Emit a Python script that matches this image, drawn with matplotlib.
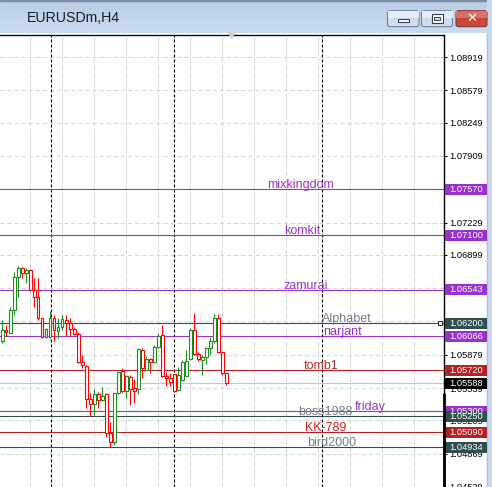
import numpy as np
import matplotlib
matplotlib.use("Agg")
import matplotlib.pyplot as plt
from matplotlib.patches import Rectangle, FancyBboxPatch
from matplotlib.transforms import blended_transform_factory

plt.rcParams['font.family'] = ['Liberation Sans', 'DejaVu Sans']
plt.rcParams['lines.scale_dashes'] = False

# ---------------- data ----------------
window_title = "EURUSDm,H4"

opens = [1.06022, 1.06132, 1.06104, 1.06336, 1.06676, 1.06762, 1.06711, 1.06744, 1.06540, 1.06466,
         1.06251, 1.06057, 1.06057, 1.06251, 1.06125, 1.06159, 1.06234, 1.06200, 1.06139, 1.06088,
         1.05805, 1.05769, 1.05424, 1.05373, 1.05475, 1.05417, 1.05475, 1.05077, 1.04991, 1.05485,
         1.05716, 1.05512, 1.05655, 1.05536, 1.05526, 1.05928, 1.05723, 1.05833, 1.05808, 1.05955,
         1.06081, 1.05662, 1.05638, 1.05682, 1.05519, 1.05621, 1.05662, 1.05833, 1.06132, 1.05887,
         1.05825, 1.05853, 1.05945, 1.06022, 1.06251, 1.05910, 1.05690]
highs = [1.06234, 1.06183, 1.06367, 1.06727, 1.06785, 1.06778, 1.06762, 1.06751, 1.06660, 1.06660,
         1.06254, 1.06149, 1.06326, 1.06285, 1.06257, 1.06285, 1.06285, 1.06251, 1.06159, 1.06114,
         1.05876, 1.05774, 1.05485, 1.05526, 1.05502, 1.05553, 1.05485, 1.05195, 1.05490, 1.05706,
         1.05741, 1.05672, 1.05672, 1.05628, 1.05945, 1.05945, 1.05866, 1.05843, 1.05979, 1.06104,
         1.06183, 1.05706, 1.05690, 1.05682, 1.05757, 1.05825, 1.05928, 1.06149, 1.06302, 1.05910,
         1.05876, 1.05961, 1.06057, 1.06295, 1.06295, 1.05910, 1.05690]
lows = [1.06002, 1.06070, 1.06101, 1.06285, 1.06472, 1.06660, 1.06609, 1.06533, 1.06363, 1.06234,
        1.06050, 1.06050, 1.06047, 1.06022, 1.06047, 1.06132, 1.06070, 1.06070, 1.06081, 1.05798,
        1.05741, 1.05335, 1.05254, 1.05264, 1.05332, 1.05407, 1.05042, 1.04940, 1.04957, 1.05475,
        1.05492, 1.05434, 1.05366, 1.05383, 1.05478, 1.05638, 1.05720, 1.05696, 1.05792, 1.05945,
        1.05649, 1.05560, 1.05560, 1.05502, 1.05512, 1.05614, 1.05662, 1.05825, 1.05876, 1.05818,
        1.05672, 1.05785, 1.05876, 1.06002, 1.05900, 1.05672, 1.05570]
closes = [1.06132, 1.06116, 1.06336, 1.06670, 1.06762, 1.06711, 1.06744, 1.06540, 1.06466, 1.06251,
          1.06057, 1.06142, 1.06251, 1.06132, 1.06159, 1.06241, 1.06200, 1.06139, 1.06088, 1.05805,
          1.05774, 1.05424, 1.05373, 1.05475, 1.05417, 1.05458, 1.05077, 1.04991, 1.05485, 1.05700,
          1.05512, 1.05662, 1.05526, 1.05512, 1.05935, 1.05741, 1.05833, 1.05808, 1.05955, 1.06070,
          1.05662, 1.05638, 1.05604, 1.05512, 1.05672, 1.05808, 1.05815, 1.06132, 1.05887, 1.05833,
          1.05853, 1.05945, 1.06022, 1.06251, 1.05910, 1.05690, 1.05588]

price_ticks = [1.08919, 1.08579, 1.08249, 1.07909, 1.07570, 1.07229, 1.06899, 1.06559,
               1.06219, 1.05879, 1.05539, 1.05209, 1.04869, 1.04529]

level_names = ["mixkingdom", "komkit", "zamurai", "Alphabet", "narjant", "tomb1",
               "friday", "boss1988", "KK-789", "bird2000"]
level_prices = [1.07570, 1.07100, 1.06543, 1.06200, 1.06066, 1.05720,
                1.05300, 1.05250, 1.05090, 1.04934]
level_label_bar = [66.2, 70.4, 70.2, 79.9, 80.3, 75.4, 88.0, 74.0, 75.8, 76.1]

bid_price = 1.05588
separator_bars = [12.1, 43.0, 80.0]

# ---------------- styles ----------------
ORCHID = "#9932CC"
SLATE = "#2F4F4F"
BRICK = "#B22222"
level_line_colors = [ORCHID, ORCHID, ORCHID, SLATE, ORCHID, BRICK, ORCHID, SLATE, BRICK, SLATE]
level_text_colors = [ORCHID, ORCHID, ORCHID, "#737F8C", ORCHID, "#B03030", ORCHID, "#737F8C", "#D42020", "#737F8C"]
UP = "#1E8C1E"
DOWN = "#FF0000"

W, H, DPI = 492, 487, 100
fig = plt.figure(figsize=(W / DPI, H / DPI), dpi=DPI, facecolor="white")

# chrome layer in pixel coordinates
chrome = fig.add_axes([0, 0, 1, 1], zorder=0)
chrome.set_xlim(0, W)
chrome.set_ylim(H, 0)
chrome.axis("off")

grad = np.linspace(0, 1, 40).reshape(-1, 1)
from matplotlib.colors import LinearSegmentedColormap
cm = LinearSegmentedColormap.from_list("tb", ["#B8CDE6", "#C9DBF0"])
chrome.imshow(grad, cmap=cm, extent=(0, W, 33, 0), aspect="auto", zorder=0)
chrome.add_patch(Rectangle((0, 0), W, 1.2, color="#7C8DA1", zorder=1))
chrome.add_patch(Rectangle((487, 0), 5, H, color="#C7D8EE", zorder=1))
chrome.add_patch(Rectangle((486.5, 33), 0.8, H, color="#AFC2DA", zorder=2))
chrome.text(27, 17.5, window_title, fontsize=10.2, color="#1E1E1E", va="center", ha="left",
            family=["Liberation Sans", "DejaVu Sans"])

# window buttons
def button(x0, x1, face, edge):
    chrome.add_patch(FancyBboxPatch((x0, 10.7), x1 - x0, 16, boxstyle="round,pad=0,rounding_size=2.5",
                                    facecolor=face, edgecolor=edge, linewidth=0.8, zorder=3))
button(387.5, 419, "#CFDCEE", "#6F8299")
button(421.5, 452.5, "#CFDCEE", "#6F8299")
button(456, 487, "#C9473C", "#8A3430")
chrome.add_patch(Rectangle((387.5, 10.7), 31.5, 7, color="#E4ECF7", zorder=3.5, linewidth=0))
chrome.add_patch(Rectangle((421.5, 10.7), 31, 7, color="#E4ECF7", zorder=3.5, linewidth=0))
chrome.add_patch(Rectangle((456, 10.7), 31, 7, color="#D8706A", zorder=3.5, linewidth=0))
chrome.add_patch(Rectangle((398, 19), 11, 3.2, facecolor="white", edgecolor="#34435A", linewidth=0.8, zorder=4))
chrome.add_patch(Rectangle((431.5, 14), 11, 8.5, facecolor="white", edgecolor="#34435A", linewidth=0.8, zorder=4))
chrome.add_patch(Rectangle((433.7, 16.8), 6.6, 3.4, facecolor="#CFDCEE", edgecolor="#34435A", linewidth=0.7, zorder=4.5))
chrome.text(471.5, 18.5, "✕", fontsize=9.5, fontweight="bold", color="white", ha="center", va="center",
            family=["DejaVu Sans"], zorder=5)

# ---------------- chart ----------------
ax = fig.add_axes([0, 0, 444 / W, (H - 35) / H], zorder=1)
ax.set_facecolor("white")
ax.set_xlim(-0.575, 110.425)
ax.set_ylim(1.04529, 1.09144)

for s in ["left", "bottom"]:
    ax.spines[s].set_visible(False)
for s in ["top", "right"]:
    ax.spines[s].set_color("black")
    ax.spines[s].set_linewidth(1.0)

ax.set_xticks(np.arange(7, 110, 8))
ax.tick_params(axis="x", length=0, labelbottom=False)
ax.yaxis.tick_right()
ax.set_yticks(price_ticks)
ax.set_yticklabels([f"{t:.5f}" for t in price_ticks])
ax.tick_params(axis="y", length=2.2, width=0.7, pad=1.5, labelsize=6.7, colors="black")
ax.grid(True, color="#D4D4D4", linestyle=(0, (2.9, 2.2)), linewidth=0.72, zorder=0)
ax.set_axisbelow(True)

# period separators
for b in separator_bars:
    ax.axvline(b, color="black", linestyle=(0, (2.2, 1.4)), linewidth=0.8, zorder=1)

# bid line
ax.axhline(bid_price, color="#C8C8C8", linewidth=0.8, zorder=1.2)

# horizontal level lines
for p, c in zip(level_prices, level_line_colors):
    ax.axhline(p, color=c, linewidth=0.8, zorder=1.5)

# candles
o = np.array(opens); h = np.array(highs); l = np.array(lows); c = np.array(closes)
x = np.arange(len(o))
cols = [UP if cc >= oo else DOWN for oo, cc in zip(o, c)]
ax.vlines(x, l, h, colors=cols, linewidth=0.8, zorder=3)
body_lo = np.minimum(o, c)
body_h = np.maximum(np.abs(c - o), 0.00002)
ax.bar(x, body_h, bottom=body_lo, width=0.6, facecolor="white", edgecolor=cols, linewidth=0.8, zorder=4)

# level text labels
for name, p, bx, tc in zip(level_names, level_prices, level_label_bar, level_text_colors):
    ax.annotate(name, (bx, p), xytext=(0, 0.8), textcoords="offset points", ha="left", va="baseline",
                fontsize=9.0, color=tc, zorder=6, annotation_clip=False)

# price boxes on the axis
bt = blended_transform_factory(ax.transAxes, ax.transData)
px_per_price = (H - 35) / (1.09144 - 1.04529)
box_h = 11.0 / px_per_price
box_x0 = 445.0 / 444.0
box_w = 42.0 / 444.0
box_prices = level_prices + [bid_price]
box_colors = level_line_colors + ["black"]
for p, bc in zip(box_prices, box_colors):
    ax.add_patch(Rectangle((box_x0, p - box_h / 2), box_w, box_h, transform=bt, facecolor=bc,
                           edgecolor="none", clip_on=False, zorder=10))
    ax.text(box_x0 + box_w / 2, p, f"{p:.5f}", transform=bt, ha="center", va="center",
            fontsize=6.7, color="white", clip_on=False, zorder=11)

# selected-line marker and right axis bar
ax.plot([109.4], [1.06200], marker="s", markersize=3.2, markerfacecolor="white",
        markeredgecolor="black", markeredgewidth=0.6, zorder=12, clip_on=False)
ax.plot([1.0, 1.0], [0.0, (H - 393) / (H - 35)], transform=ax.transAxes, color="black",
        linewidth=2.0, solid_capstyle="butt", clip_on=False, zorder=12)
ax.plot([57.2], [1.0], transform=blended_transform_factory(ax.transData, ax.transAxes),
        marker="v", markersize=5, color="#D0D0D0", clip_on=False, zorder=12)

fig.savefig("out.png", dpi=DPI, facecolor="white")
